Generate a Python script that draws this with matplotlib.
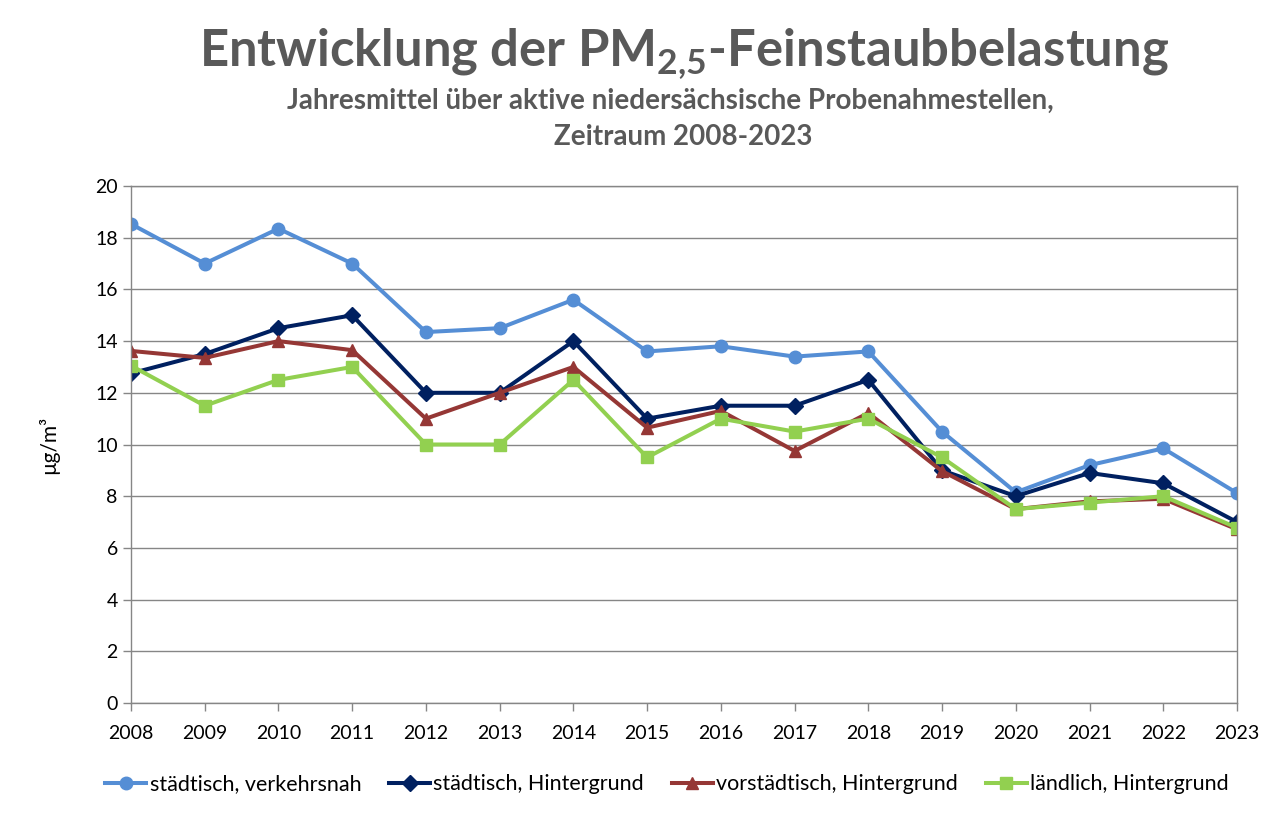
import matplotlib
matplotlib.use("Agg")
import matplotlib.pyplot as plt

years = list(range(2008, 2024))

verkehrsnah = [18.53, 17.0, 18.35, 17.0, 14.35, 14.5, 15.6, 13.6, 13.8, 13.4,
               13.6, 10.5, 8.15, 9.2, 9.85, 8.12]
staedt_hg = [12.75, 13.5, 14.5, 15.0, 12.0, 12.0, 14.0, 11.0, 11.5, 11.5,
             12.5, 9.0, 8.0, 8.9, 8.5, 7.0]
vorstaedt_hg = [13.62, 13.35, 14.0, 13.65, 11.0, 12.0, 13.0, 10.65, 11.3, 9.75,
                11.22, 8.97, 7.5, 7.8, 7.9, 6.72]
laendlich_hg = [13.05, 11.5, 12.5, 13.0, 10.0, 10.0, 12.5, 9.5, 11.0, 10.5,
                11.0, 9.5, 7.5, 7.75, 8.0, 6.78]

labels = ["städtisch, verkehrsnah", "städtisch, Hintergrund",
          "vorstädtisch, Hintergrund", "ländlich, Hintergrund"]
colors = ["#558ED5", "#002060", "#953735", "#92D050"]
markers = ["o", "D", "^", "s"]
msizes = [9, 8, 9, 8.5]

plt.rcParams['font.family'] = ['Lato', 'DejaVu Sans']
plt.rcParams['mathtext.fontset'] = 'custom'
plt.rcParams['mathtext.rm'] = 'Lato'
plt.rcParams['mathtext.bf'] = 'Lato:bold'

fig = plt.figure(figsize=(12.73, 8.23), dpi=100)
ax = fig.add_axes([0.1029, 0.1458, 0.8688, 0.6282])

series = [verkehrsnah, staedt_hg, vorstaedt_hg, laendlich_hg]
for vals, lab, col, mk, ms in zip(series, labels, colors, markers, msizes):
    ax.plot(years, vals, color=col, marker=mk, markersize=ms, linewidth=2.9,
            label=lab, markeredgecolor=col)

ax.set_xlim(2008, 2023)
ax.set_ylim(0, 20)
ax.set_xticks(years)
ax.set_yticks(range(0, 21, 2))
ax.tick_params(axis='both', labelsize=14, colors='#868686', labelcolor='black',
               length=6, width=1)
ax.tick_params(axis='x', pad=10)
ax.grid(axis='y', color='#868686', linewidth=1)
ax.set_axisbelow(True)
for sp in ax.spines.values():
    sp.set_color('#868686')
    sp.set_linewidth(1)

ax.set_ylabel("µg/m³", fontsize=15, labelpad=26)

fig.text(0.537, 0.935, r"Entwicklung der PM$_{\mathbf{2{,}5}}$-Feinstaubbelastung",
         ha='center', va='center', fontsize=36.5, fontweight='bold', color='#595959')
fig.text(0.527, 0.877, "Jahresmittel über aktive niedersächsische Probenahmestellen,",
         ha='center', va='center', fontsize=20, fontweight='bold', color='#595959')
fig.text(0.537, 0.833, "Zeitraum 2008-2023",
         ha='center', va='center', fontsize=20, fontweight='bold', color='#595959')

fig.legend(loc='center', bbox_to_anchor=(0.524, 0.047), ncol=4, frameon=False,
           fontsize=15.5, handlelength=1.9, handletextpad=0.15, columnspacing=1.3)

fig.savefig("out.png", dpi=100)
